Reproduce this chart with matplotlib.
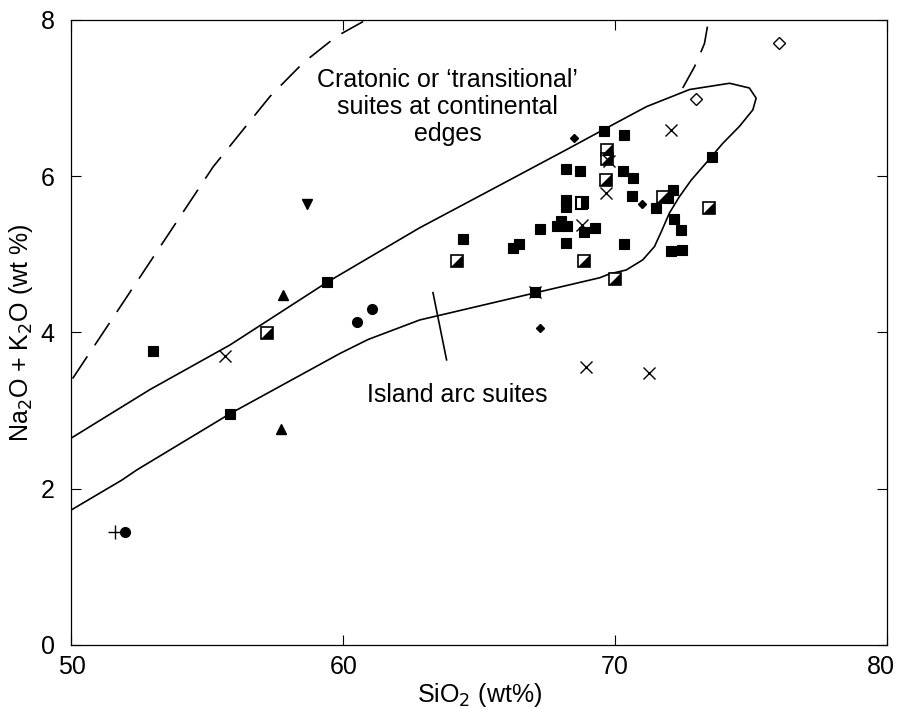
import numpy as np
import matplotlib
matplotlib.use("Agg")
import matplotlib.pyplot as plt
import matplotlib.transforms as mtransforms
from matplotlib.path import Path

plt.rcParams['font.family'] = ['Liberation Sans', 'DejaVu Sans']

# --- data (SiO2 wt%, Na2O+K2O wt%) ---
sq_x = [53.0, 55.83, 59.39, 64.40, 66.24, 66.45, 67.24, 68.0, 67.86, 68.23, 68.18, 68.2, 68.7,
        68.2, 68.2, 68.85, 69.25, 67.04, 69.59, 70.32, 70.29, 70.65, 70.63, 71.49, 71.94, 72.12,
        73.57, 72.16, 72.43, 72.04, 72.46, 70.32]
sq_y = [3.76, 2.96, 4.65, 5.20, 5.08, 5.13, 5.32, 5.43, 5.36, 5.36, 5.14, 6.09, 6.07,
        5.70, 5.60, 5.28, 5.34, 4.52, 6.58, 6.53, 6.07, 5.98, 5.75, 5.59, 5.72, 5.83,
        6.24, 5.45, 5.31, 5.04, 5.06, 5.13]

half_x = [57.19, 64.20, 68.85, 69.71, 69.71, 69.67, 71.76, 73.45, 69.98]
half_y = [3.99, 4.92, 4.92, 6.33, 6.22, 5.95, 5.74, 5.59, 4.69]

dsq_x = [68.79]
dsq_y = [5.66]

cross_x = [55.64, 67.04, 68.79, 69.79, 69.67, 72.07, 68.94, 71.23]
cross_y = [3.70, 4.52, 5.38, 6.19, 5.78, 6.59, 3.56, 3.48]

dia_x = [68.49, 71.0, 67.22]
dia_y = [6.49, 5.64, 4.06]

odia_x = [72.98, 76.02]
odia_y = [6.99, 7.70]

up_x = [57.78, 57.70]
up_y = [4.48, 2.77]

down_x = [58.67]
down_y = [5.64]

dot_x = [51.97, 60.51, 61.04]
dot_y = [1.45, 4.13, 4.30]

plus_x = [51.6]
plus_y = [1.45]

# envelope of island-arc / cratonic fields
env_x = [50.0, 52.89, 55.83, 59.39, 62.81, 66.0, 68.21, 69.54, 71.15, 72.74, 74.21, 74.94, 75.19,
         75.07, 74.58, 73.96, 73.35, 72.80, 72.37, 72.0, 71.70, 71.45, 71.02, 70.41, 69.80,
         69.43, 66.97, 62.81, 60.91, 59.87, 55.83, 52.40, 51.85, 50.0]
env_y = [2.65, 3.27, 3.84, 4.64, 5.34, 5.93, 6.34, 6.59, 6.89, 7.11, 7.19, 7.13, 7.00,
         6.85, 6.64, 6.42, 6.17, 5.95, 5.74, 5.53, 5.29, 5.10, 4.93, 4.80, 4.75,
         4.70, 4.50, 4.16, 3.91, 3.73, 2.96, 2.24, 2.11, 1.73]

dash1_x = [50.04, 53.19, 55.21, 57.30, 58.52, 59.75, 60.73]
dash1_y = [3.41, 5.06, 6.12, 7.02, 7.45, 7.79, 7.98]

dash2_x = [72.49, 72.92, 73.11, 73.29, 73.41]
dash2_y = [7.13, 7.40, 7.55, 7.70, 7.94]

leader_x = [63.30, 63.80]
leader_y = [4.51, 3.65]

fig = plt.figure(figsize=(8.97, 7.09), dpi=100)
ax = fig.add_axes([0.0797, 0.0903, 0.909, 0.8815])

ax.plot(env_x, env_y, color='black', lw=1.2)
l1, = ax.plot(dash1_x, dash1_y, color='black', lw=1.2)
l2, = ax.plot(dash2_x, dash2_y, color='black', lw=1.2)
l1.set_dashes((16, 8))
l2.set_dashes((16, 8))
ax.plot(leader_x, leader_y, color='black', lw=1.2)

tri = Path([(-1, -1), (1, -1), (1, 1), (-1, -1)], [Path.MOVETO, Path.LINETO, Path.LINETO, Path.CLOSEPOLY])

ax.plot(sq_x, sq_y, 's', color='black', ms=7, mew=0.8, ls='none')
ax.plot(half_x, half_y, 's', mfc='white', mec='black', ms=8, mew=1.2, ls='none')
ax.plot(half_x, half_y, marker=tri, color='black', ms=8, mew=0, ls='none')
ax.plot(dsq_x, dsq_y, 's', color='black', mfc='black', mfcalt='white', fillstyle='right',
        ms=8, mew=1.5, ls='none')
ax.plot(cross_x, cross_y, 'x', color='black', ms=9, mew=1.0, ls='none')
ax.plot(dia_x, dia_y, 'D', color='black', ms=4.5, ls='none')
ax.plot(odia_x, odia_y, 'D', mfc='white', mec='black', ms=6, mew=1.0, ls='none')
ax.plot(up_x, up_y, '^', color='black', ms=7, ls='none')
ax.plot(down_x, down_y, 'v', color='black', ms=7, ls='none')
ax.plot(dot_x, dot_y, 'o', color='black', ms=7, ls='none')
ax.plot(plus_x, plus_y, '+', color='black', ms=10, mew=1.0, ls='none')

ax.text(63.84, 6.45, 'Cratonic or \u2018transitional\u2019\nsuites at continental\nedges',
        ha='center', va='baseline', fontsize=18, linespacing=1.15)
ax.text(67.52, 3.115, 'Island arc suites', ha='right', va='baseline', fontsize=18)

ax.set_xlim(50, 80)
ax.set_ylim(0, 8)
ax.set_xticks([50, 60, 70, 80])
ax.set_yticks([0, 2, 4, 6, 8])
ax.tick_params(direction='in', length=7, width=0.8, labelsize=18, top=True, right=True)
ax.tick_params(axis='x', pad=7)
ax.tick_params(axis='y', pad=12)
for s in ax.spines.values():
    s.set_linewidth(0.9)

# keep the last x tick label inside the canvas
last = ax.get_xticklabels()[-1]
last.set_transform(last.get_transform() + mtransforms.ScaledTranslation(-6 / 100, 0, fig.dpi_scale_trans))

ax.set_xlabel('SiO$_2$ (wt%)', fontsize=18, labelpad=0)
ax.set_ylabel('Na$_2$O + K$_2$O (wt %)', fontsize=18, labelpad=4)
ax.xaxis.set_label_coords(0.5, -0.058)

fig.savefig('out.png', dpi=100)
